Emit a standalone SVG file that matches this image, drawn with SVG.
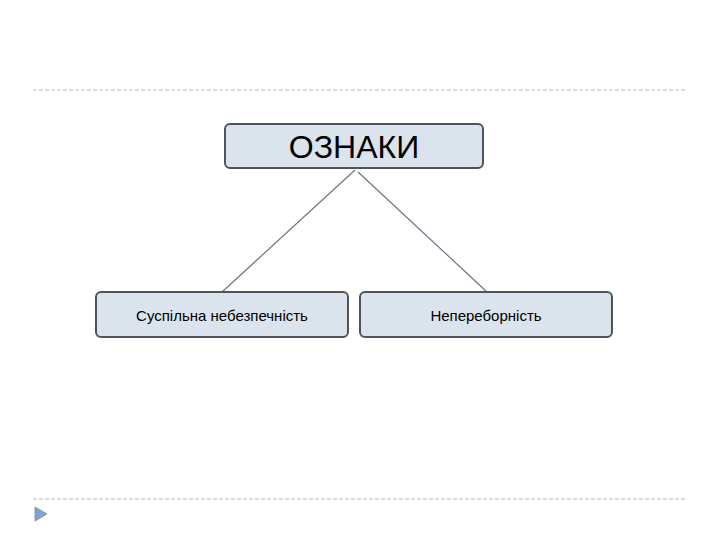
<svg xmlns="http://www.w3.org/2000/svg" width="720" height="540" viewBox="0 0 720 540">
<style>
.sep{stroke:#b8b8b8;stroke-width:1;stroke-dasharray:4,2;fill:none}
.box{fill:#dbe3ec;stroke:#50535e;stroke-width:2}
.t{font-family:"Liberation Sans",Arial,sans-serif;fill:#000;text-anchor:middle}
.ln{stroke:#6e7183;stroke-width:1.2;fill:none}
</style>
<rect width="720" height="540" fill="#fff"/>
<line class="sep" x1="33" y1="90" x2="686" y2="90"/>
<line class="sep" x1="33" y1="499" x2="686" y2="499"/>
<path d="M35,507 L47,514 L35,521 Z" fill="#7ea6cf" stroke="#8a97a6" stroke-width="1"/>
<g id="connectors">
<line class="ln" x1="355" y1="170" x2="222" y2="292"/>
<line class="ln" x1="358" y1="172" x2="487" y2="292"/>
</g>
<g id="root"><rect class="box" x="225" y="124" width="258" height="44" rx="5"/><text class="t" x="354" y="158" font-size="32">ОЗНАКИ</text></g>
<g id="left"><rect class="box" x="96" y="292" width="252" height="45" rx="5"/><text class="t" x="222" y="321" font-size="15">Суспільна небезпечність</text></g>
<g id="right"><rect class="box" x="360" y="292" width="252" height="45" rx="5"/><text class="t" x="486" y="321" font-size="15">Непереборність</text></g>
</svg>
